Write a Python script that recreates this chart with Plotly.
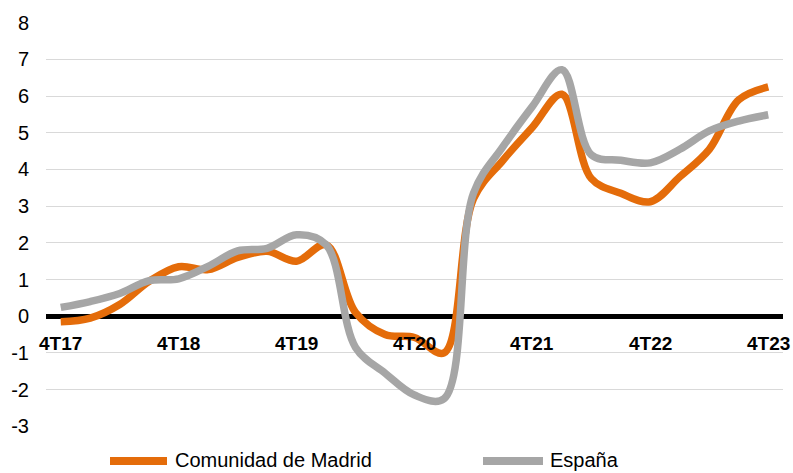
import plotly.graph_objects as go

# Quarterly series, 4T17 .. 4T23 (25 quarters)
quarters = ["4T17", "1T18", "2T18", "3T18", "4T18", "1T19", "2T19", "3T19", "4T19",
            "1T20", "2T20", "3T20", "4T20", "1T21", "2T21", "3T21", "4T21",
            "1T22", "2T22", "3T22", "4T22", "1T23", "2T23", "3T23", "4T23"]
madrid = [-0.15, -0.05, 0.32, 0.95, 1.35, 1.27, 1.60, 1.77, 1.50,
          1.95, 0.10, -0.50, -0.58, -1.00, 3.20, 4.25, 5.15,
          6.05, 3.75, 3.35, 3.12, 3.80, 4.55, 5.90, 6.25]
espana = [0.24, 0.40, 0.62, 0.97, 1.02, 1.36, 1.78, 1.85, 2.22,
          1.95, -0.85, -1.55, -2.15, -2.25, 3.35, 4.62, 5.72,
          6.72, 4.40, 4.25, 4.18, 4.55, 5.05, 5.32, 5.49]

series_names = ["Comunidad de Madrid", "España"]
series_colors = ["#E46C0A", "#A6A6A6"]

y_ticks = [-3, -2, -1, 0, 1, 2, 3, 4, 5, 6, 7, 8]
y_tick_text = [str(v) for v in y_ticks]  # plain hyphen for negatives

W, H = 793, 473
ML, MR, MT, MB = 46, 10, 22, 46
FONT = "Liberation Sans, Arial, Helvetica, sans-serif"

x = list(range(len(quarters)))

fig = go.Figure()
for name, vals, col in zip(series_names, [madrid, espana], series_colors):
    fig.add_trace(go.Scatter(
        x=x, y=vals, name=name, mode="lines",
        line=dict(color=col, width=7.5, shape="spline", smoothing=1.0),
        showlegend=False, cliponaxis=False,
    ))

# Year labels just below the zero line
annotations = []
for i, q in enumerate(quarters):
    if q.startswith("4T"):
        annotations.append(dict(
            x=i, y=0, xref="x", yref="y", text="<b>%s</b>" % q,
            showarrow=False, xanchor="center", yanchor="middle", yshift=-27,
            font=dict(family=FONT, size=19, color="#000000"),
        ))

# Legend drawn as line samples plus text, below the plot
plot_w = W - ML - MR
plot_h = H - MT - MB


def px_to_paper_x(px):
    return (px - ML) / plot_w


def px_to_paper_y(py):
    return (H - MB - py) / plot_h


shapes = []
legend_items = [(110, 167, 173), (483, 543, 548)]
legend_y = 460
for (x0, x1, tx), name, col in zip(legend_items, series_names, series_colors):
    shapes.append(dict(
        type="line", xref="paper", yref="paper",
        x0=px_to_paper_x(x0), x1=px_to_paper_x(x1),
        y0=px_to_paper_y(legend_y + 1), y1=px_to_paper_y(legend_y + 1),
        line=dict(color=col, width=8),
    ))
    annotations.append(dict(
        x=px_to_paper_x(tx), y=px_to_paper_y(legend_y), xref="paper", yref="paper",
        text=name, showarrow=False, xanchor="left", yanchor="middle",
        font=dict(family=FONT, size=20, color="#000000"),
    ))

fig.update_layout(
    width=W, height=H,
    margin=dict(l=ML, r=MR, t=MT, b=MB, pad=0),
    paper_bgcolor="#FFFFFF", plot_bgcolor="#FFFFFF",
    font=dict(family=FONT, size=20, color="#000000"),
    showlegend=False,
    annotations=annotations,
    shapes=shapes,
)
fig.update_xaxes(
    range=[-0.5, len(quarters) - 0.5],
    showgrid=False, zeroline=False, showticklabels=False, ticks="",
    showline=False, fixedrange=True,
)
fig.update_yaxes(
    range=[-3.02, 8.02],
    tickvals=y_ticks, ticktext=y_tick_text,
    showgrid=True, gridcolor="#D9D9D9", gridwidth=1,
    zeroline=True, zerolinecolor="#000000", zerolinewidth=5,
    showline=False, ticks="", ticklabelstandoff=16,
    tickfont=dict(family=FONT, size=20, color="#000000"),
    fixedrange=True,
)

fig.write_html("out.html")
